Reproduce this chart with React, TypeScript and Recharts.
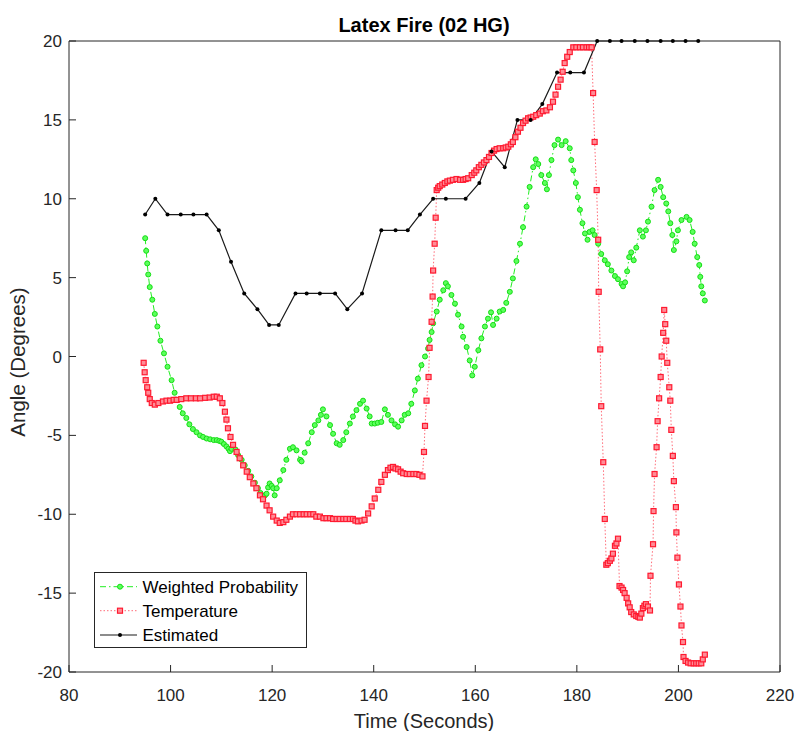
import { LineChart, Line, XAxis, YAxis } from "recharts";

const xTicks = [80, 100, 120, 140, 160, 180, 200, 220];
const yTicks = [-20, -15, -10, -5, 0, 5, 10, 15, 20];

// Weighted Probability (green)
const probTime = [
  95.0, 95.2, 95.4, 95.6, 95.9, 96.4, 96.9, 97.4, 98.0, 98.7, 99.4, 100.2, 100.8, 101.8, 102.4, 103.1,
  103.7, 104.4, 105.1, 105.8, 106.4, 107.1, 107.8, 108.5, 109.1, 109.6, 110.0, 110.5, 111.0, 111.4, 111.7,
  112.0, 112.3, 112.8, 113.3, 114.0, 114.6, 115.3, 115.9, 116.6, 117.2, 117.7, 118.2, 118.6, 118.9, 119.2,
  119.5, 119.9, 120.2, 120.5, 120.9, 121.5, 122.2, 122.8, 123.5, 124.1, 124.8, 125.5, 125.8, 126.4, 127.1,
  127.8, 128.4, 129.1, 129.6, 130.0, 130.7, 131.4, 132.0, 132.7, 133.3, 134.0, 134.6, 135.3, 135.9, 136.6,
  137.3, 137.9, 138.6, 139.2, 139.6, 140.2, 140.8, 141.5, 142.2, 142.8, 143.5, 144.2, 144.8, 145.5, 146.1,
  146.8, 147.4, 148.1, 148.7, 149.4, 150.1, 150.7, 151.0, 151.4, 151.7, 152.4, 153.0, 153.7, 154.2, 154.6,
  155.3, 156.0, 156.6, 157.3, 157.6, 158.3, 158.9, 159.4, 159.9, 160.6, 161.2, 161.9, 162.5, 163.1, 163.5,
  164.2, 164.8, 165.5, 166.1, 166.8, 167.4, 168.1, 168.8, 169.4, 170.1, 170.7, 171.4, 171.9, 172.4, 173.0,
  173.7, 174.1, 174.5, 175.0, 175.6, 176.3, 177.0, 177.8, 178.6, 178.9, 179.3, 179.8, 180.2, 180.6, 181.1,
  181.6, 182.1, 182.5, 183.1, 183.5, 184.2, 184.8, 185.5, 186.1, 186.8, 187.5, 188.1, 188.8, 189.1, 189.5,
  189.9, 190.3, 190.7, 191.2, 191.7, 192.4, 193.0, 193.6, 194.0, 194.7, 195.3, 196.0, 196.5, 197.0, 197.6,
  198.0, 198.4, 198.8, 199.1, 199.6, 199.9, 200.6, 201.6, 202.2, 202.8, 203.2, 203.7, 204.1, 204.3, 204.5,
  204.8, 205.2,
];
const probAngle = [
  7.5, 6.7, 5.9, 5.2, 4.4, 3.6, 2.7, 1.9, 1.0, 0.2, -0.65, -1.5, -2.3, -3.2, -3.6, -3.9,
  -4.3, -4.6, -4.8, -5.0, -5.1, -5.2, -5.25, -5.3, -5.3, -5.35, -5.4, -5.55, -5.7, -5.85, -6.0,
  -5.85, -5.6, -5.9, -6.25, -6.55, -6.9, -7.25, -7.6, -8.0, -8.35, -8.65, -9.0, -8.8, -8.7, -8.3,
  -8.05, -8.2, -8.35, -8.8, -8.35, -7.85, -7.2, -6.55, -5.85, -5.75, -5.95, -6.55, -6.65, -6.1, -5.5,
  -4.8, -4.35, -4.05, -3.7, -3.35, -3.8, -4.35, -4.9, -5.5, -5.6, -5.3, -4.8, -4.25, -3.8, -3.4,
  -3.0, -2.8, -3.3, -3.8, -4.25, -4.25, -4.2, -4.15, -3.35, -3.7, -4.05, -4.3, -4.45, -4.05, -3.7,
  -3.6, -3.0, -2.15, -1.4, -0.55, 0.0, 0.5, 1.05, 1.55, 2.1, 2.85, 3.6, 4.2, 4.65, 4.45,
  3.9, 3.35, 2.65, 1.9, 1.25, 0.6, -0.25, -1.2, -0.65, 0.4, 1.15, 1.9, 2.4, 2.8, 2.0,
  2.4, 2.85, 2.95, 3.4, 4.1, 4.95, 6.05, 7.15, 8.2, 9.5, 10.75, 12.0, 12.5, 12.2, 11.5,
  11.0, 10.6, 11.5, 12.45, 13.4, 13.75, 13.4, 13.65, 13.2, 12.45, 11.8, 11.0, 10.1, 9.3, 8.45,
  7.8, 7.4, 7.9, 8.0, 7.7, 7.15, 6.5, 6.1, 5.85, 5.45, 5.1, 4.9, 4.6, 4.45, 4.7,
  5.4, 6.3, 6.6, 6.1, 6.9, 8.0, 7.6, 8.0, 8.55, 9.5, 10.55, 11.2, 10.75, 10.1, 9.7,
  9.2, 8.45, 7.7, 6.75, 7.3, 8.0, 8.65, 8.85, 8.65, 7.9, 7.15, 6.3, 5.8, 5.05, 4.45,
  4.0, 3.55,
];

// Temperature (red)
const tempTime = [
  94.7, 94.9, 95.1, 95.4, 95.6, 95.9, 96.3, 96.9, 97.6, 98.5, 99.2, 99.9, 100.6, 101.2, 102.1, 103.1,
  104.0, 105.0, 105.8, 106.8, 107.7, 108.5, 109.1, 109.7, 110.2, 110.7, 111.0, 111.3, 111.8, 112.3, 113.0,
  113.6, 114.3, 115.0, 115.6, 116.3, 116.9, 117.6, 118.2, 118.9, 119.5, 120.2, 120.9, 121.5, 122.2, 122.8,
  123.5, 124.1, 124.8, 125.5, 126.2, 126.8, 127.5, 128.1, 128.7, 129.4, 130.1, 130.7, 131.4, 132.0, 132.7,
  133.3, 134.0, 134.6, 135.3, 135.9, 136.4, 136.9, 137.6, 138.2, 138.9, 139.6, 140.2, 140.9, 141.5, 142.2,
  142.8, 143.3, 143.8, 144.3, 144.8, 145.3, 145.8, 146.5, 147.1, 147.8, 148.4, 149.0, 149.6, 149.9, 150.1,
  150.4, 150.8, 151.0, 151.4, 151.6, 151.7, 152.0, 152.2, 152.4, 152.7, 153.0, 153.5, 154.0, 154.5, 155.0,
  155.6, 156.3, 157.0, 157.6, 158.1, 158.6, 159.3, 159.8, 160.2, 160.7, 161.2, 161.7, 162.2, 162.7, 163.2,
  163.7, 164.2, 164.8, 165.5, 166.0, 166.5, 167.0, 167.4, 167.9, 168.4, 168.9, 169.4, 169.9, 170.4, 170.9,
  171.4, 172.0, 172.7, 173.3, 174.0, 174.7, 175.3, 175.8, 176.3, 176.8, 177.2, 177.6, 178.1, 178.6, 179.3,
  179.9, 180.6, 181.2, 181.9, 182.4, 182.9, 183.2, 183.5, 183.9, 184.2, 184.3, 184.6, 184.8, 185.2, 185.5,
  185.8, 186.1, 186.5, 186.8, 187.1, 187.5, 187.8, 188.1, 188.4, 188.8, 189.1, 189.4, 189.8, 190.1, 190.4,
  190.7, 191.2, 191.7, 192.1, 192.4, 192.7, 193.0, 193.3, 193.6, 194.0, 194.4, 194.5, 195.0, 195.1, 195.3,
  195.7, 195.9, 196.2, 196.5, 196.7, 197.0, 197.2, 197.4, 197.6, 197.8, 198.2, 198.4, 198.6, 198.9, 199.1,
  199.5, 199.6, 199.8, 200.1, 200.4, 200.6, 200.9, 201.0, 201.4, 201.9, 202.4, 203.0, 203.5, 204.0, 204.5,
  204.8, 205.2,
];
const tempAngle = [
  -0.4, -1.0, -1.5, -1.95, -2.3, -2.7, -2.95, -3.05, -2.95, -2.85, -2.8, -2.8, -2.75, -2.75, -2.7, -2.65,
  -2.65, -2.65, -2.65, -2.62, -2.6, -2.55, -2.55, -2.65, -2.95, -3.5, -4.0, -4.55, -5.1, -5.6, -6.05,
  -6.45, -6.9, -7.3, -7.65, -8.05, -8.35, -8.8, -9.05, -9.45, -9.75, -10.15, -10.4, -10.55, -10.5, -10.35,
  -10.15, -10.0, -10.0, -10.0, -10.0, -10.0, -10.0, -10.0, -10.15, -10.15, -10.25, -10.25, -10.25, -10.3, -10.3,
  -10.3, -10.3, -10.3, -10.3, -10.3, -10.4, -10.45, -10.4, -10.35, -9.95, -9.5, -9.0, -8.45, -7.95, -7.5,
  -7.2, -7.05, -7.0, -7.1, -7.15, -7.3, -7.4, -7.45, -7.45, -7.45, -7.45, -7.5, -7.6, -6.05, -4.4,
  -2.8, -1.3, 0.55, 2.2, 3.8, 5.45, 7.15, 8.8, 10.55, 10.7, 10.8, 10.9, 11.0, 11.1, 11.15,
  11.2, 11.25, 11.2, 11.2, 11.25, 11.3, 11.5, 11.65, 11.8, 12.0, 12.15, 12.3, 12.45, 12.65, 12.9,
  13.05, 13.15, 13.2, 13.2, 13.25, 13.3, 13.45, 13.6, 13.9, 14.25, 14.5, 14.8, 14.95, 15.1, 15.15,
  15.2, 15.3, 15.4, 15.55, 15.6, 15.8, 16.15, 16.6, 17.1, 17.55, 18.05, 18.6, 19.0, 19.3, 19.6,
  19.6, 19.6, 19.6, 19.6, 19.6, 19.6, 16.7, 13.6, 10.55, 7.4, 4.1, 0.45, -3.15, -6.7, -10.3,
  -13.2, -13.1, -12.95, -12.8, -12.5, -12.0, -11.85, -11.55, -14.55, -14.65, -14.8, -15.0, -15.3, -15.65, -15.9,
  -16.2, -16.35, -16.45, -16.5, -16.55, -16.3, -15.95, -15.8, -15.7, -15.85, -16.1, -13.9, -11.9, -9.8, -7.45,
  -5.75, -4.1, -2.65, -1.3, 0.0, 1.5, 2.95, 2.05, 1.0, -0.4, -1.95, -2.8, -4.65, -6.3, -7.9,
  -9.55, -11.15, -12.75, -14.45, -15.85, -17.05, -18.1, -19.05, -19.3, -19.4, -19.45, -19.45, -19.45, -19.45, -19.45,
  -19.2, -18.9,
];

// Estimated (black)
const estTime = [
  95, 97, 99.4, 102, 104.5, 107.1, 109.5, 111.9, 114.5, 117.1, 119.4, 121.3, 124.6, 126.8, 129.4, 132.4,
  134.8, 137.7, 141.5, 144.3, 146.7, 149.1, 151.7, 154.2, 158.1, 160.8, 163.2, 165.8, 168.3, 170.9, 173.2,
  176.1, 178.7, 181.4, 184, 186.5, 188.8, 191.4, 193.9, 196.5, 198.9, 201.4, 203.9,
];
const estAngle = [
  9, 10, 9, 9, 9, 9, 8, 6, 4, 3, 2, 2, 4, 4, 4, 4,
  3, 4, 8, 8, 8, 9, 10, 10, 10, 11, 13, 12, 15, 15, 16,
  18, 18, 18, 20, 20, 20, 20, 20, 20, 20, 20, 20,
];

const toRows = (t: number[], a: number[]) => t.map((time, i) => ({ time, angle: a[i] }));

const probData = toRows(probTime, probAngle);
const tempData = toRows(tempTime, tempAngle);
const estData = toRows(estTime, estAngle);

const AXIS = "#262626";
const FONT = "'Liberation Sans', Arial, Helvetica, sans-serif";
const GREEN = "#22ee22";
const RED = "#ff1a30";
const RED_FILL = "#ff8c96";

function BottomTick({ x, y, payload }: any) {
  return (
    <g>
      <line x1={x} x2={x} y1={y} y2={y - 7} stroke={AXIS} />
      <text x={x} y={y + 29} textAnchor="middle" fontSize={17} fill={AXIS} fontFamily={FONT}>
        {payload.value}
      </text>
    </g>
  );
}

function TopTick({ x, y }: any) {
  return <line x1={x} x2={x} y1={y} y2={y + 7} stroke={AXIS} />;
}

function LeftTick({ x, y, payload }: any) {
  return (
    <g>
      <line x1={x} x2={x + 7} y1={y} y2={y} stroke={AXIS} />
      <text x={x - 7} y={y} dy="0.36em" textAnchor="end" fontSize={17} fill={AXIS} fontFamily={FONT}>
        {payload.value}
      </text>
    </g>
  );
}

function RightTick({ x, y }: any) {
  return <line x1={x} x2={x - 7} y1={y} y2={y} stroke={AXIS} />;
}

const greenDot = (p: any) => (
  <circle key={`g${p.index}`} cx={p.cx} cy={p.cy} r={2.5} fill="#5dff5d" stroke="#14dd14" strokeWidth={1} />
);
const redDot = (p: any) => (
  <rect key={`r${p.index}`} x={p.cx - 2.5} y={p.cy - 2.5} width={5} height={5} fill={RED_FILL} stroke={RED} strokeWidth={1.2} />
);
const blackDot = (p: any) => <circle key={`b${p.index}`} cx={p.cx} cy={p.cy} r={2} fill="#000" />;

export default function App() {
  return (
    <div style={{ position: "absolute", left: 0, top: 0, width: 799, height: 731, background: "#fff" }}>
      <LineChart width={799} height={731} margin={{ top: 40, right: 18, bottom: 9, left: 9 }}>
        <XAxis
          type="number"
          dataKey="time"
          domain={[80, 220]}
          ticks={xTicks}
          height={50}
          tickSize={0}
          tickMargin={0}
          tickLine={false}
          stroke={AXIS}
          tick={<BottomTick />}
          interval={0}
        />
        <XAxis
          xAxisId="top"
          orientation="top"
          type="number"
          dataKey="time"
          domain={[80, 220]}
          ticks={xTicks}
          height={1}
          tickSize={0}
          tickMargin={0}
          tickLine={false}
          stroke={AXIS}
          tick={<TopTick />}
          interval={0}
        />
        <YAxis
          type="number"
          domain={[-20, 20]}
          ticks={yTicks}
          width={60}
          tickSize={0}
          tickMargin={0}
          tickLine={false}
          stroke={AXIS}
          tick={<LeftTick />}
          interval={0}
        />
        <YAxis
          yAxisId="right"
          orientation="right"
          type="number"
          domain={[-20, 20]}
          ticks={yTicks}
          width={1}
          tickSize={0}
          tickMargin={0}
          tickLine={false}
          stroke={AXIS}
          tick={<RightTick />}
          interval={0}
        />
        <Line
          data={probData}
          dataKey="angle"
          type="linear"
          stroke={GREEN}
          strokeWidth={1}
          strokeDasharray="6 3 1.5 3"
          dot={greenDot}
          activeDot={false}
          isAnimationActive={false}
        />
        <Line
          data={tempData}
          dataKey="angle"
          type="linear"
          stroke="#ff6b78"
          strokeWidth={1}
          strokeDasharray="1.5 2"
          dot={redDot}
          activeDot={false}
          isAnimationActive={false}
        />
        <Line
          data={estData}
          dataKey="angle"
          type="linear"
          stroke="#1a1a1a"
          strokeWidth={1.2}
          dot={blackDot}
          activeDot={false}
          isAnimationActive={false}
        />
      </LineChart>
      <svg
        width={799}
        height={731}
        style={{ position: "absolute", left: 0, top: 0, pointerEvents: "none" }}
        fontFamily={FONT}
      >
        <text x={424} y={31.5} textAnchor="middle" fontSize={20} fontWeight="bold" fill="#000">
          Latex Fire (02 HG)
        </text>
        <text x={424} y={728} textAnchor="middle" fontSize={20} fill={AXIS}>
          Time (Seconds)
        </text>
        <text x={25} y={362} textAnchor="middle" fontSize={20.5} fill={AXIS} transform="rotate(-90 25 362)">
          Angle (Degrees)
        </text>
        <g>
          <rect x={94.5} y={572.5} width={212} height={75} fill="#fff" stroke={AXIS} strokeWidth={1} />
          <line x1={100} x2={137} y1={586.7} y2={586.7} stroke={GREEN} strokeDasharray="6 3 1.5 3" />
          <circle cx={120} cy={586.7} r={2.5} fill="#5dff5d" stroke="#14dd14" />
          <text x={142.5} y={592.7} fontSize={17} fill="#000">Weighted Probability</text>
          <line x1={100} x2={137} y1={610.7} y2={610.7} stroke="#ff6b78" strokeDasharray="1.5 2" />
          <rect x={117.5} y={608.2} width={5} height={5} fill={RED_FILL} stroke={RED} strokeWidth={1.2} />
          <text x={142.5} y={616.7} fontSize={17} fill="#000">Temperature</text>
          <line x1={100} x2={137} y1={635} y2={635} stroke="#1a1a1a" strokeWidth={1.2} />
          <circle cx={120} cy={635} r={2} fill="#000" />
          <text x={142.5} y={641} fontSize={17} fill="#000">Estimated</text>
        </g>
      </svg>
    </div>
  );
}
